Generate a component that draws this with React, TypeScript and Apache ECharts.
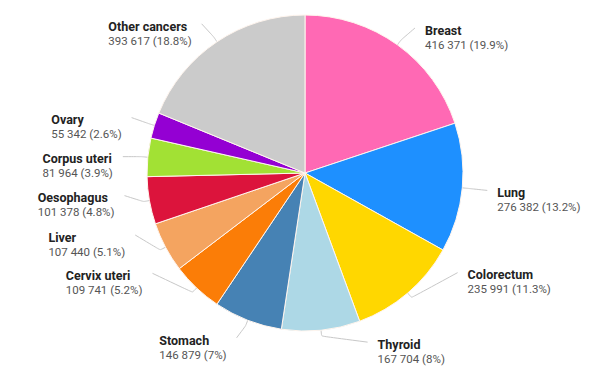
import React, { useEffect, useRef } from "react";
import * as echarts from "echarts";

const categories = [
  "Breast",
  "Lung",
  "Colorectum",
  "Thyroid",
  "Stomach",
  "Cervix uteri",
  "Liver",
  "Oesophagus",
  "Corpus uteri",
  "Ovary",
  "Other cancers",
];
const values = [416371, 276382, 235991, 167704, 146879, 109741, 107440, 101378, 81964, 55342, 393617];
const percents = ["19.9", "13.2", "11.3", "8", "7", "5.2", "5.1", "4.8", "3.9", "2.6", "18.8"];
const colors = [
  "#ff69b4",
  "#1e90ff",
  "#ffd700",
  "#add8e6",
  "#4682b4",
  "#fb7d07",
  "#f4a460",
  "#dc143c",
  "#a2e134",
  "#9400d3",
  "#cbcbcb",
];

// label-line elbow offsets (from the end of the radial stub to the label anchor)
const labelOffsets: [number, number][] = [
  [14, -12],
  [19, 2],
  [46, -25],
  [46, 6],
  [-9, 12],
  [-40, -19],
  [-25, -15],
  [-19, -6],
  [-19, 0],
  [-17, -6],
  [-12, -13],
];

const fmt = (v: number) => String(v).replace(/\B(?=(\d{3})+(?!\d))/g, " ");

export default function App() {
  const ref = useRef<HTMLDivElement>(null);
  useEffect(() => {
    if (!ref.current) return;
    const chart = echarts.init(ref.current, null, { renderer: "svg" });
    chart.setOption({
      animation: false,
      backgroundColor: "#ffffff",
      series: [
        {
          type: "pie",
          center: [297, 165],
          radius: 158,
          startAngle: 90,
          clockwise: true,
          avoidLabelOverlap: false,
          itemStyle: { borderColor: "#fff5ee", borderWidth: 1 },
          label: {
            show: true,
            fontFamily: "Roboto",
            fontSize: 12,
            formatter: (p: any) =>
              `{b|${p.name}}\n{c|${fmt(p.value)} (${percents[p.dataIndex]}%)}`,
            rich: {
              b: { fontFamily: "Roboto", fontSize: 12.5, fontWeight: "bold", color: "#222", lineHeight: 14.5, align: "left" },
              c: { fontFamily: "Roboto", fontSize: 11.5, color: "#555", lineHeight: 14.5, align: "left" },
            },
          },
          labelLine: {
            show: true,
            length: 6,
            length2: 0,
            smooth: 0.15,
            lineStyle: { color: "#c8c8c8", width: 1 },
          },
          labelLayout: (params: any) => {
            const pts = params.labelLinePoints;
            if (!pts || pts.length < 2) return {};
            const [ox, oy] = labelOffsets[params.dataIndex];
            const p0 = pts[0];
            const p1 = pts[1];
            const end = [p1[0] + ox, p1[1] + oy];
            const isRight = ox >= 0;
            return {
              x: isRight ? end[0] + 10 : end[0] - 10,
              y: end[1] - 5,
              align: isRight ? "left" : "right",
              verticalAlign: "top",
              labelLinePoints: [p0, p1, end],
            };
          },
          data: categories.map((name, i) => ({
            name,
            value: values[i],
            itemStyle: { color: colors[i] },
          })),
        },
      ],
    });
    return () => chart.dispose();
  }, []);
  return <div ref={ref} style={{ width: 584, height: 363 }} />;
}
